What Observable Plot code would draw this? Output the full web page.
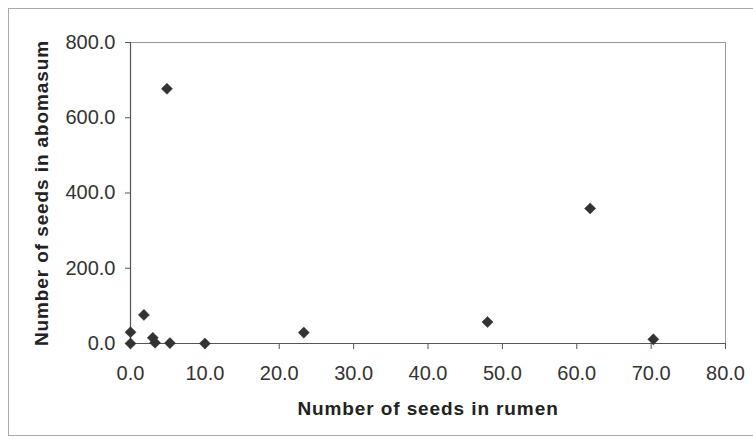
<!DOCTYPE html>
<html>
<head>
<meta charset="utf-8">
<script src="https://cdn.jsdelivr.net/npm/d3@7"></script>
<script src="https://cdn.jsdelivr.net/npm/@observablehq/plot@0.6"></script>
<style>
  html, body { margin: 0; padding: 0; background: #fff; }
  #chart { position: relative; width: 753px; height: 442px; overflow: hidden; }
  #border { position: absolute; left: 8px; top: 8px; width: 760px; height: 428px; border: 1px solid #aaa; box-sizing: border-box; pointer-events: none; }
  svg { font-family: "Liberation Sans", Arial, sans-serif; }
  g[aria-label="y-axis label"] text, g[aria-label="x-axis label"] text { font-weight: bold; font-size: 19px; letter-spacing: 0.9px; fill: #222; }
</style>
</head>
<body>
<div id="chart"><div id="border"></div></div>
<script>
const rumen =    [0, 0, 1.8, 3.0, 3.3, 4.9, 5.3, 10.0, 23.3, 48.0, 61.8, 70.3];
const abomasum = [0, 30, 76, 15, 2, 677, 1, 0, 29, 57, 359, 11];
const xTicks = [0, 10, 20, 30, 40, 50, 60, 70, 80];
const yTicks = [0, 200, 400, 600, 800];
const xTitle = "Number of seeds in rumen";
const yTitle = "Number of seeds in abomasum";

const data = rumen.map((r, i) => ({rumen: r, abomasum: abomasum[i]}));
const fmt = d3.format(".1f");

const plot = Plot.plot({
  width: 753,
  height: 442,
  marginLeft: 130,
  marginRight: 28,
  marginTop: 42,
  marginBottom: 99,
  style: {fontSize: "20px", fontFamily: "Liberation Sans, Arial, sans-serif", color: "#333", background: "transparent"},
  x: {domain: [0, 80]},
  y: {domain: [0, 800]},
  marks: [
    Plot.ruleY([800], {stroke: "#999", strokeWidth: 1}),
    Plot.ruleX([80], {stroke: "#999", strokeWidth: 1}),
    Plot.axisX({ticks: xTicks, tickFormat: fmt, tickSize: 6, tickPadding: 16, stroke: "#555",
      label: xTitle, labelAnchor: "center", labelArrow: "none", labelOffset: 71}),
    Plot.axisY({ticks: yTicks, tickFormat: fmt, tickSize: 5, tickPadding: 10, stroke: "#555",
      label: yTitle, labelAnchor: "center", labelArrow: "none", labelOffset: 96}),
    Plot.ruleX([0], {stroke: "#555", strokeWidth: 1.2}),
    Plot.ruleY([0], {stroke: "#555", strokeWidth: 1.2}),
    Plot.dot(data, {x: "rumen", y: "abomasum", symbol: "diamond2", r: 5, fill: "#333", stroke: "#333", strokeWidth: 0.5})
  ]
});
document.getElementById("chart").appendChild(plot);
</script>
</body>
</html>
